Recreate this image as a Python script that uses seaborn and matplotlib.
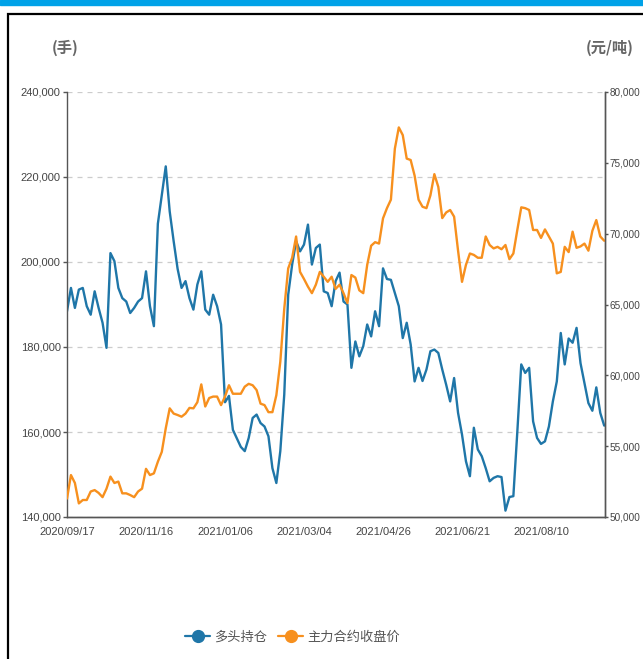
import pandas as pd
import matplotlib.pyplot as plt
from matplotlib.lines import Line2D
from matplotlib.patches import Rectangle
import seaborn as sns

sns.set_style('white')
plt.rcParams['font.family'] = ['Noto Sans CJK SC', 'DejaVu Sans']
plt.rcParams['axes.unicode_minus'] = False

# 日期刻度 (每 20 个交易日一个)
tick_labels = ['2020/09/17', '2020/11/16', '2021/01/06', '2021/03/04',
               '2021/04/26', '2021/06/21', '2021/08/10']

# 多头持仓 (手)
long_pos = [
    188400, 193900, 189200, 193500, 193900, 189600, 187600, 193100, 189200, 185700,
    179800, 202100, 200200, 193900, 191500, 190700, 188000, 189200, 190700, 191500,
    197800, 189600, 184900, 209000, 215800, 222500, 211900, 204900, 198400, 193900,
    195500, 191500, 188800, 194700, 197800, 188800, 187600, 192300, 189600, 185300,
    167000, 168500, 160500, 158500, 156500, 155500, 158600, 163300, 164100, 162100,
    161300, 159000, 151500, 148000, 155500, 168800, 192300, 199400, 204900, 202500,
    204100, 208800, 199400, 203300, 204100, 193100, 192700, 189600, 195500, 197500,
    190700, 190000, 175100, 181300, 177800, 180200, 185300, 182500, 188400, 184900,
    198500, 196000, 195800, 192700, 189600, 182100, 185700, 180600, 171900, 175100,
    172000, 174700, 179000, 179400, 178600, 174700, 171100, 167200, 172700, 164500,
    159400, 153100, 149600, 161000, 155900, 154300, 151500, 148400, 149200, 149600,
    149400, 141500, 144700, 144900, 160000, 175900, 173900, 175100, 162500, 158600,
    157200, 157800, 161300, 167200, 171900, 183300, 175900, 182000, 181000, 184500,
    176200, 171500, 166800, 165000, 170500, 164500, 161500,
]

# 主力合约收盘价 (元/吨)
close_price = [
    51300, 52960, 52400, 50960, 51200, 51200, 51800, 51900, 51700, 51400,
    52000, 52850, 52400, 52500, 51670, 51670, 51550, 51400, 51800, 52000,
    53400, 52960, 53080, 53900, 54600, 56260, 57670, 57300, 57200, 57080,
    57300, 57700, 57670, 58100, 59360, 57800, 58400, 58500, 58500, 57900,
    58500, 59300, 58700, 58700, 58700, 59200, 59400, 59300, 58960, 58000,
    57900, 57400, 57400, 58600, 60960, 64700, 67550, 68300, 69800, 67300,
    66800, 66260, 65800, 66400, 67300, 66960, 66600, 66960, 66100, 66400,
    65800, 65100, 67080, 66900, 66000, 65800, 67800, 69150, 69400, 69300,
    71080, 71800, 72400, 76000, 77500, 76960, 75300, 75200, 74100, 72400,
    71900, 71800, 72700, 74200, 73300, 71100, 71500, 71670, 71200, 68800,
    66600, 67800, 68600, 68500, 68300, 68300, 69800, 69200, 68960, 69070,
    68900, 69200, 68200, 68600, 70260, 71860, 71800, 71670, 70260, 70260,
    69700, 70300, 69800, 69300, 67200, 67300, 69070, 68700, 70140, 69000,
    69100, 69300, 68800, 70200, 70960, 69800, 69500,
]

blue = '#1f76a8'
orange = '#f7901e'

df = pd.DataFrame({'idx': range(len(long_pos)),
                   '多头持仓': long_pos,
                   '主力合约收盘价': close_price})

fig = plt.figure(figsize=(6.43, 6.59), dpi=100)

# 顶部蓝条 + 黑色边框
fig.patches.append(Rectangle((0, 1 - 5 / 659), 1, 5 / 659, transform=fig.transFigure,
                             color='#00a2e8', zorder=0))
fig.patches.append(Rectangle((8 / 643, -0.1), 1.2, 1.1 - 14 / 659, transform=fig.transFigure,
                             fill=False, edgecolor='black', lw=1.6, zorder=0))

ax = fig.add_axes([67 / 643, 1 - 517 / 659, 538 / 643, 425 / 659])
ax2 = ax.twinx()

sns.lineplot(data=df, x='idx', y='多头持仓', ax=ax, color=blue, lw=1.7)
sns.lineplot(data=df, x='idx', y='主力合约收盘价', ax=ax2, color=orange, lw=1.7)

ax.set_xlim(0, len(long_pos) - 0.8)
ax.set_ylim(140000, 240000)
ax2.set_ylim(50000, 80000)
ax.set_yticks(range(140000, 240001, 20000))
ax2.set_yticks(range(50000, 80001, 5000))
ax.set_xticks(range(0, len(tick_labels) * 20, 20))
ax.set_xticklabels(tick_labels)
ax.yaxis.set_major_formatter(lambda v, p: f'{v:,.0f}')
ax2.yaxis.set_major_formatter(lambda v, p: f'{v:,.0f}')
ax.set_xlabel('')
ax.set_ylabel('')
ax2.set_ylabel('')

ax.grid(axis='y', color='#cccccc', linestyle=(0, (4, 4)), lw=0.9)
ax.set_axisbelow(True)

for a in (ax, ax2):
    a.spines['top'].set_visible(False)
    for s in ('left', 'right', 'bottom'):
        a.spines[s].set_color('#555555')
        a.spines[s].set_linewidth(1.0)
    a.tick_params(direction='out', length=3, width=1, color='#555555',
                  labelcolor='#444444', labelsize=8, pad=1.5)
ax.tick_params(axis='x', pad=4)
ax2.tick_params(axis='y', labelsize=7.2, length=2.5, pad=0.8)
ax2.spines['left'].set_visible(False)

num_font = ['Liberation Sans', 'DejaVu Sans']
for lab in ax.get_yticklabels() + ax2.get_yticklabels() + ax.get_xticklabels():
    lab.set_family(num_font)

fig.text(65 / 643, 1 - 48 / 659, '(手)', ha='center', va='center',
         fontsize=11, color='#666666', fontweight='bold')
fig.text(610 / 643, 1 - 48 / 659, '(元/吨)', ha='center', va='center',
         fontsize=11, color='#666666', fontweight='bold')

handles = [Line2D([], [], color=blue, marker='o', markersize=8.5, lw=1.6),
           Line2D([], [], color=orange, marker='o', markersize=8.5, lw=1.6)]
leg = fig.legend(handles, ['多头持仓', '主力合约收盘价'], loc='center',
                 bbox_to_anchor=(0.455, 1 - 637 / 659), ncol=2, frameon=False,
                 fontsize=9.5, handlelength=1.9, handletextpad=0.3, columnspacing=0.8)
for t in leg.get_texts():
    t.set_color('#555555')

fig.savefig('out.png', dpi=100)
